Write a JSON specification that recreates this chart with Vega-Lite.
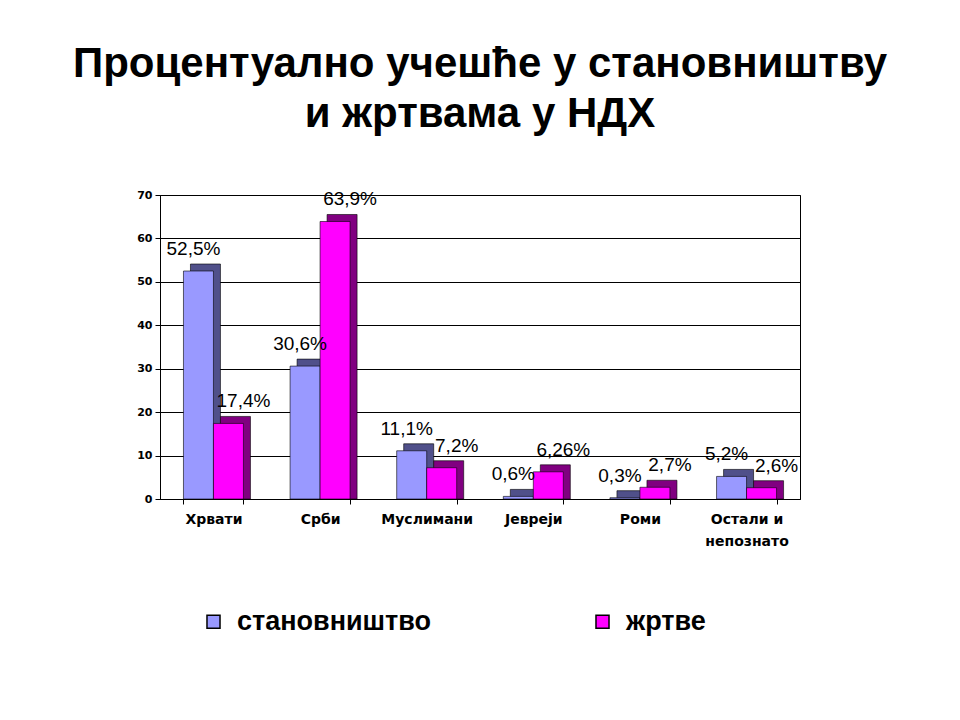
{
  "$schema": "https://vega.github.io/schema/vega-lite/v6.json",
  "width": 640,
  "height": 304,
  "autosize": "none",
  "padding": {"left": 160, "top": 195, "right": 160, "bottom": 221},
  "background": "white",
  "title": {
    "text": ["Процентуално учешће у становништву", "и жртвама у НДХ"],
    "font": "Liberation Sans",
    "fontSize": 42,
    "fontWeight": "bold",
    "lineHeight": 50,
    "color": "black",
    "anchor": "middle",
    "offset": 53
  },
  "data": {
    "values": [
      {"group": "Хрвати", "series": "становништво", "value": 52.5},
      {"group": "Хрвати", "series": "жртве", "value": 17.4},
      {"group": "Срби", "series": "становништво", "value": 30.6},
      {"group": "Срби", "series": "жртве", "value": 63.9},
      {"group": "Муслимани", "series": "становништво", "value": 11.1},
      {"group": "Муслимани", "series": "жртве", "value": 7.2},
      {"group": "Јевреји", "series": "становништво", "value": 0.6},
      {"group": "Јевреји", "series": "жртве", "value": 6.26},
      {"group": "Роми", "series": "становништво", "value": 0.3},
      {"group": "Роми", "series": "жртве", "value": 2.7},
      {"group": "Остали и непознато", "series": "становништво", "value": 5.2},
      {"group": "Остали и непознато", "series": "жртве", "value": 2.6}
    ]
  },
  "transform": [
    {"calculate": "replace(format(datum.value, '.3~r'), '.', ',') + '%'", "as": "lbl"}
  ],
  "encoding": {
    "x": {
      "field": "group",
      "type": "nominal",
      "sort": null,
      "scale": {"paddingInner": 0.4375, "paddingOuter": 0.22},
      "axis": {
        "title": null,
        "labelAngle": 0,
        "labelFont": "DejaVu Sans",
        "labelFontWeight": "bold",
        "labelFontSize": 14,
        "labelColor": "black",
        "labelPadding": 8,
        "labelLineHeight": 22,
        "labelExpr": "datum.label == 'Остали и непознато' ? ['Остали и', 'непознато'] : datum.label",
        "tickBand": "extent",
        "tickColor": "black",
        "tickSize": 5,
        "domainColor": "black",
        "grid": false
      }
    },
    "y": {
      "field": "value",
      "type": "quantitative",
      "stack": null,
      "scale": {"domain": [0, 70]},
      "axis": {
        "title": null,
        "values": [0, 10, 20, 30, 40, 50, 60, 70],
        "labelFont": "DejaVu Sans",
        "labelFontWeight": "bold",
        "labelFontSize": 11,
        "labelColor": "black",
        "labelPadding": 3,
        "tickColor": "black",
        "domainColor": "black",
        "gridColor": "black",
        "gridOpacity": 1
      }
    }
  },
  "layer": [
    {
      "mark": {
        "type": "bar",
        "yOffset": -7,
        "y2Offset": -7,
        "stroke": "black",
        "strokeWidth": 0.6
      },
      "encoding": {
        "xOffset": {
          "field": "series",
          "type": "nominal",
          "sort": ["становништво", "жртве"],
          "scale": {"range": [7, 67]}
        },
        "color": {
          "field": "series",
          "type": "nominal",
          "scale": {"domain": ["становништво", "жртве"], "range": ["#50508a", "#800080"]},
          "legend": null
        }
      }
    },
    {
      "mark": {"type": "bar", "stroke": "black", "strokeWidth": 0.6},
      "encoding": {
        "xOffset": {
          "field": "series",
          "type": "nominal",
          "sort": ["становништво", "жртве"]
        },
        "color": {
          "field": "series",
          "type": "nominal",
          "scale": {"domain": ["становништво", "жртве"], "range": ["#9999ff", "#ff00ff"]},
          "legend": {
            "title": null,
            "orient": "none",
            "legendX": 40,
            "legendY": 413,
            "direction": "horizontal",
            "columns": 2,
            "columnPadding": 157,
            "symbolType": "square",
            "symbolSize": 170,
            "symbolStrokeColor": "black",
            "symbolStrokeWidth": 1.5,
            "labelFont": "Liberation Sans",
            "labelFontWeight": "bold",
            "labelFontSize": 27,
            "labelColor": "black",
            "labelOffset": 10,
            "labelLimit": 400
          }
        }
      }
    },
    {
      "mark": {
        "type": "text",
        "font": "Liberation Sans",
        "fontSize": 19,
        "color": "black",
        "baseline": "bottom",
        "dy": -12
      },
      "encoding": {
        "xOffset": {
          "field": "series",
          "type": "nominal",
          "sort": ["становништво", "жртве"],
          "scale": {"range": [-15, 85]}
        },
        "text": {"field": "lbl"}
      }
    }
  ],
  "resolve": {"scale": {"color": "independent", "xOffset": "independent"}},
  "config": {
    "view": {"stroke": "black", "strokeWidth": 1}
  }
}
